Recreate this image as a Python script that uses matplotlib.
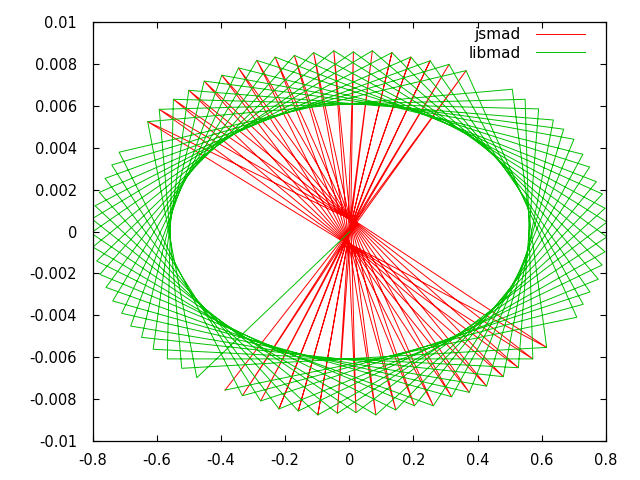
import matplotlib
matplotlib.use('Agg')
import matplotlib.pyplot as plt

# ---- data (outer vertices, grouped by quadrant class, in sequence order)
ul_x = [-0.628, -0.592, -0.548, -0.500, -0.452, -0.397, -0.345, -0.288, -0.231, -0.171,
        -0.111, -0.048, 0.013, 0.072, 0.133, 0.192, 0.252, 0.311, 0.364]
ul_y = [0.00525, 0.00584, 0.00632, 0.00675, 0.00719, 0.00747, 0.00782, 0.00818, 0.00834, 0.00842,
        0.00855, 0.00864, 0.00859, 0.00864, 0.00855, 0.00834, 0.00816, 0.00799, 0.00769]

ur_x = [0.508, 0.548, 0.590, 0.636, 0.668, 0.700, 0.728, 0.749, 0.770, 0.789,
        0.797, 0.803, 0.803, 0.797, 0.788, 0.776, 0.750, 0.729, 0.709]
ur_y = [0.00680, 0.00632, 0.00586, 0.00533, 0.00489, 0.00441, 0.00369, 0.00308, 0.00238, 0.00179,
        0.00111, 0.00045, -0.00026, -0.00097, -0.00160, -0.00228, -0.00289, -0.00348, -0.00410]

lr_x = [0.615, 0.572, 0.527, 0.480, 0.428, 0.374, 0.319, 0.262, 0.203, 0.145,
        0.083, 0.021, -0.037, -0.098, -0.159, -0.219, -0.276, -0.333, -0.387]
lr_y = [-0.00554, -0.00609, -0.00651, -0.00694, -0.00739, -0.00769, -0.00790, -0.00833, -0.00833, -0.00853,
        -0.00877, -0.00866, -0.00869, -0.00877, -0.00858, -0.00848, -0.00810, -0.00785, -0.00758]

ll_x = [-0.475, -0.522, -0.567, -0.611, -0.647, -0.681, -0.709, -0.737, -0.758, -0.777,
        -0.787, -0.799, -0.805, -0.802, -0.792, -0.779, -0.761, -0.740, -0.717]
ll_y = [-0.00699, -0.00654, -0.00609, -0.00563, -0.00506, -0.00452, -0.00391, -0.00332, -0.00267, -0.00205,
        -0.00141, -0.00074, -0.00007, 0.00060, 0.00123, 0.00187, 0.00254, 0.00318, 0.00379]

# jsmad: near-zero samples where libmad has the LL / UR samples
jll_x = [-0.028, -0.026, -0.024, -0.022, -0.020, -0.018, -0.016, -0.014, -0.012, -0.010,
         -0.008, -0.006, -0.004, -0.002, 0.000, 0.001, 0.002, 0.004, 0.006]
jll_y = [-0.00040, -0.00037, -0.00034, -0.00031, -0.00028, -0.00025, -0.00022, -0.00019, -0.00016, -0.00013,
         -0.00010, -0.00008, -0.00006, -0.00004, -0.00002, 0.00000, 0.00002, 0.00004, 0.00006]
jur_x = [0.028, 0.026, 0.024, 0.022, 0.020, 0.018, 0.016, 0.014, 0.012, 0.010,
         0.008, 0.006, 0.004, 0.002, 0.000, -0.001, -0.002, -0.004, -0.006]
jur_y = [0.00040, 0.00037, 0.00034, 0.00031, 0.00028, 0.00025, 0.00022, 0.00019, 0.00016, 0.00013,
         0.00010, 0.00008, 0.00006, 0.00004, 0.00002, 0.00000, -0.00002, -0.00004, -0.00006]

start_x = [0.002]
start_y = [0.0]

x_ticks = [-0.8, -0.6, -0.4, -0.2, 0, 0.2, 0.4, 0.6, 0.8]
x_labels = ['-0.8', '-0.6', '-0.4', '-0.2', '0', '0.2', '0.4', '0.6', '0.8']
y_ticks = [-0.01, -0.008, -0.006, -0.004, -0.002, 0, 0.002, 0.004, 0.006, 0.008, 0.01]
y_labels = ['-0.01', '-0.008', '-0.006', '-0.004', '-0.002', '0', '0.002', '0.004', '0.006', '0.008', '0.01']

# ---- build the sample sequences (interleaving the classes)
n = len(ul_x)
lib_x = start_x + [v for k in range(n) for v in (ll_x[k], ul_x[k], ur_x[k], lr_x[k])]
lib_y = start_y + [v for k in range(n) for v in (ll_y[k], ul_y[k], ur_y[k], lr_y[k])]
js_x = [v for k in range(n) for v in (jll_x[k], ul_x[k], jur_x[k], lr_x[k])]
js_y = [v for k in range(n) for v in (jll_y[k], ul_y[k], jur_y[k], lr_y[k])]

plt.rcParams['font.family'] = ['DejaVu Sans']
fs = 10.5

fig = plt.figure(figsize=(6.4, 4.8), dpi=100)
ax = fig.add_axes([92.5 / 640, 1 - 440.7 / 480, (606 - 92.5) / 640, (440.7 - 22.3) / 480])

ax.plot(js_x, js_y, color='#ff0000', lw=0.7, label='jsmad')
ax.plot(lib_x, lib_y, color='#00c000', lw=0.7, label='libmad')

ax.set_xlim(-0.8, 0.8)
ax.set_ylim(-0.01, 0.01)
ax.set_xticks(x_ticks)
ax.set_xticklabels(x_labels, fontsize=fs)
ax.set_yticks(y_ticks)
ax.set_yticklabels(y_labels, fontsize=fs)
ax.tick_params(direction='in', top=True, right=True, length=4.3, width=0.8, color='black')
ax.tick_params(axis='x', pad=9)
ax.tick_params(axis='y', pad=11)
for s in ax.spines.values():
    s.set_linewidth(0.9)
    s.set_color('black')

ax.legend(loc='upper right', bbox_to_anchor=((585 - 92.5) / 513.5, (440.7 - 27.5) / 418.4),
          frameon=False, markerfirst=False, fontsize=11, handlelength=3.2,
          handletextpad=1.0, borderpad=0, borderaxespad=0, labelspacing=0.2)

fig.savefig('out.png', dpi=100)
